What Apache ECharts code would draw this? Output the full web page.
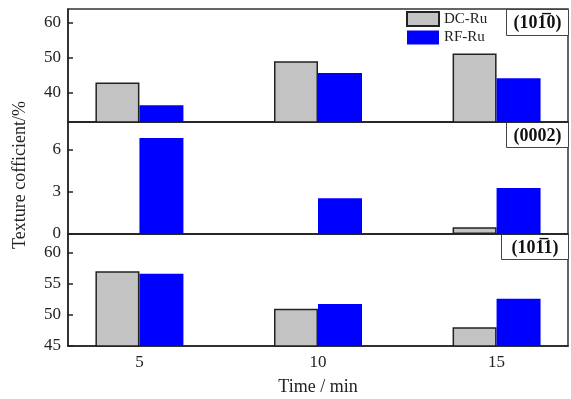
<!DOCTYPE html>
<html><head><meta charset="utf-8">
<script src="https://cdn.jsdelivr.net/npm/echarts@6/dist/echarts.min.js"></script>
<style>html,body{margin:0;padding:0;background:#fff}#c{width:571px;height:399px}</style>
</head><body><div id="c"></div>
<script>
const times = [5, 10, 15];
const dc1010 = [43, 49.1, 51.3];
const rf1010 = [36.5, 45.7, 44.2];
const dc0002 = [null, null, 0.48];
const rf0002 = [6.85, 2.55, 3.28];
const dc1011 = [57, 51, 48];
const rf1011 = [56.6, 51.75, 52.6];
const yTicks1 = [40, 50, 60];
const yTicks2 = [0, 3, 6];
const yTicks3 = [45, 50, 55, 60];
const xTicks = [5, 10, 15];
const seriesNames = ['DC-Ru', 'RF-Ru'];
const panelLabels = ['(101\u03050)', '(0002)', '(101\u03051)'];
const xTitle = 'Time / min';
const yTitle = 'Texture cofficient/%';

const FONT = 'Liberation Serif';
const pair = v => times.map((t, i) => [t, v[i]]);
const grids = [
  {left: 68, right: 3, top: 9, height: 113},
  {left: 68, right: 3, top: 122, height: 112},
  {left: 68, right: 3, top: 234, height: 112}
].map(g => Object.assign(g, {show: true, borderColor: '#333', borderWidth: 1.5, backgroundColor: 'transparent'}));

const yRanges = [[31.7, 64, yTicks1], [0, 8, yTicks2], [45, 63, yTicks3]];
const xAxes = [0, 1, 2].map(i => ({
  type: 'value', gridIndex: i, min: 3, max: 17,
  axisLine: {show: true, lineStyle: {color: '#222', width: 1.5}},
  axisTick: {show: false},
  splitLine: {show: false},
  axisLabel: i === 2 ? {customValues: xTicks, color: '#222', fontFamily: FONT, fontSize: 17, margin: 8} : {show: false},
  name: i === 2 ? xTitle : '',
  nameLocation: 'middle', nameGap: 32,
  nameTextStyle: {color: '#222', fontFamily: FONT, fontSize: 18}
}));
const yAxes = yRanges.map((r, i) => ({
  type: 'value', gridIndex: i, min: r[0], max: r[1],
  axisLine: {show: true, lineStyle: {color: '#222', width: 1.5}},
  axisTick: {show: true, inside: true, length: 5, customValues: r[2], lineStyle: {color: '#222', width: 1.5}},
  axisLabel: {customValues: r[2], color: '#222', fontFamily: FONT, fontSize: 17, margin: 7},
  splitLine: {show: false}
}));
const dcStyle = {color: '#c3c3c3', borderColor: '#222', borderWidth: 1.5};
const rfStyle = {color: '#0000ff'};
const dcData = [dc1010, dc0002, dc1011];
const rfData = [rf1010, rf0002, rf1011];
const series = [];
for (let i = 0; i < 3; i++) {
  series.push({type: 'bar', name: seriesNames[0], xAxisIndex: i, yAxisIndex: i, data: pair(dcData[i]), barWidth: 44, barGap: '0%', itemStyle: dcStyle, silent: true});
  series.push({type: 'bar', name: seriesNames[1], xAxisIndex: i, yAxisIndex: i, data: pair(rfData[i]), barWidth: 44, barGap: '0%', itemStyle: rfStyle, silent: true});
}
const boxes = [
  {x: 506, y: 9, w: 62, h: 26},
  {x: 506, y: 122, w: 62, h: 25},
  {x: 501, y: 234, w: 67, h: 25}
];
const graphic = boxes.map((b, i) => ({
  type: 'group', left: b.x, top: b.y, children: [
    {type: 'rect', shape: {x: 0, y: 0, width: b.w, height: b.h}, style: {fill: '#fff', stroke: '#444', lineWidth: 1}},
    {type: 'text', x: b.w / 2, y: b.h / 2 + 1, style: {text: panelLabels[i], fill: '#111', font: 'bold 18px "' + FONT + '"', align: 'center', verticalAlign: 'middle'}}
  ]
}));
graphic.push({type: 'text', x: 20, y: 175, rotation: Math.PI / 2,
  style: {text: yTitle, fill: '#222', font: '18px "' + FONT + '"', align: 'center', verticalAlign: 'middle'}});
const chart = echarts.init(document.getElementById('c'));
chart.setOption({
  animation: false,
  grid: grids, xAxis: xAxes, yAxis: yAxes, series: series,
  legend: {data: seriesNames, orient: 'vertical', left: 401, top: 6, itemWidth: 32, itemHeight: 14, itemGap: 3,
    icon: 'rect', textStyle: {fontFamily: FONT, fontSize: 15, color: '#222'}, selectedMode: false},
  graphic: graphic
});
</script></body></html>
